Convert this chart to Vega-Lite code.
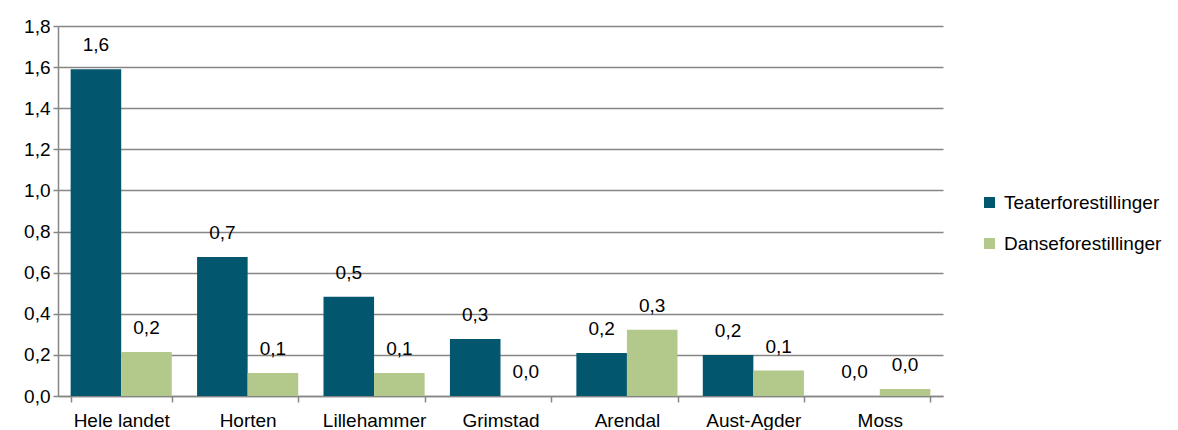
{
  "$schema": "https://vega.github.io/schema/vega-lite/v6.json",
  "width": 885,
  "height": 370,
  "autosize": {"type": "none"},
  "padding": {"left": 58, "top": 26, "right": 235, "bottom": 34},
  "background": "white",
  "config": {
    "locale": {"number": {"decimal": ",", "thousands": " ", "grouping": [3], "currency": ["", " kr"]}},
    "font": "Liberation Sans",
    "view": {"stroke": null}
  },
  "data": {
    "values": [
      {"sted": "Hele landet", "type": "Teaterforestillinger", "verdi": 1.59},
      {"sted": "Hele landet", "type": "Danseforestillinger", "verdi": 0.214},
      {"sted": "Horten", "type": "Teaterforestillinger", "verdi": 0.676},
      {"sted": "Horten", "type": "Danseforestillinger", "verdi": 0.112},
      {"sted": "Lillehammer", "type": "Teaterforestillinger", "verdi": 0.483},
      {"sted": "Lillehammer", "type": "Danseforestillinger", "verdi": 0.112},
      {"sted": "Grimstad", "type": "Teaterforestillinger", "verdi": 0.277},
      {"sted": "Grimstad", "type": "Danseforestillinger", "verdi": 0.0},
      {"sted": "Arendal", "type": "Teaterforestillinger", "verdi": 0.209},
      {"sted": "Arendal", "type": "Danseforestillinger", "verdi": 0.322},
      {"sted": "Aust-Agder", "type": "Teaterforestillinger", "verdi": 0.199},
      {"sted": "Aust-Agder", "type": "Danseforestillinger", "verdi": 0.124},
      {"sted": "Moss", "type": "Teaterforestillinger", "verdi": 0.0},
      {"sted": "Moss", "type": "Danseforestillinger", "verdi": 0.034}
    ]
  },
  "encoding": {
    "x": {
      "field": "sted", "type": "nominal", "sort": null, "title": null,
      "scale": {"paddingInner": 0.2, "paddingOuter": 0.1},
      "axis": {
        "labelAngle": 0, "labelFontSize": 19, "labelColor": "#000000", "labelPadding": 9,
        "domainColor": "#868686", "domainWidth": 1.5, "tickColor": "#868686", "tickWidth": 1.5, "tickSize": 6,
        "tickBand": "extent", "grid": false
      }
    },
    "xOffset": {"field": "type", "type": "nominal", "sort": ["Teaterforestillinger", "Danseforestillinger"]},
    "y": {
      "field": "verdi", "type": "quantitative", "title": null,
      "scale": {"domain": [0, 1.8], "nice": false},
      "axis": {
        "values": [0, 0.2, 0.4, 0.6, 0.8, 1.0, 1.2, 1.4, 1.6, 1.8],
        "format": ".1f", "labelFontSize": 19, "labelColor": "#000000", "labelPadding": 3,
        "domainColor": "#868686", "domainWidth": 1.5, "tickColor": "#868686", "tickWidth": 1.5, "tickSize": 5,
        "gridColor": "#868686", "gridWidth": 1.5
      }
    }
  },
  "layer": [
    {
      "mark": {"type": "bar"},
      "encoding": {
        "color": {
          "field": "type", "type": "nominal", "sort": ["Teaterforestillinger", "Danseforestillinger"],
          "scale": {"domain": ["Teaterforestillinger", "Danseforestillinger"], "range": ["#02576f", "#b3c88b"]},
          "legend": {
            "title": null, "orient": "none", "legendX": 922, "legendY": 167,
            "symbolType": "square", "symbolSize": 121, "symbolStrokeWidth": 0,
            "labelFontSize": 19, "labelColor": "#000000", "labelOffset": 5, "rowPadding": 21
          }
        }
      }
    },
    {
      "mark": {"type": "text", "baseline": "middle", "dy": -24, "fontSize": 19, "color": "#000000"},
      "encoding": {
        "text": {"field": "verdi", "type": "quantitative", "format": ".1f"}
      }
    }
  ]
}
